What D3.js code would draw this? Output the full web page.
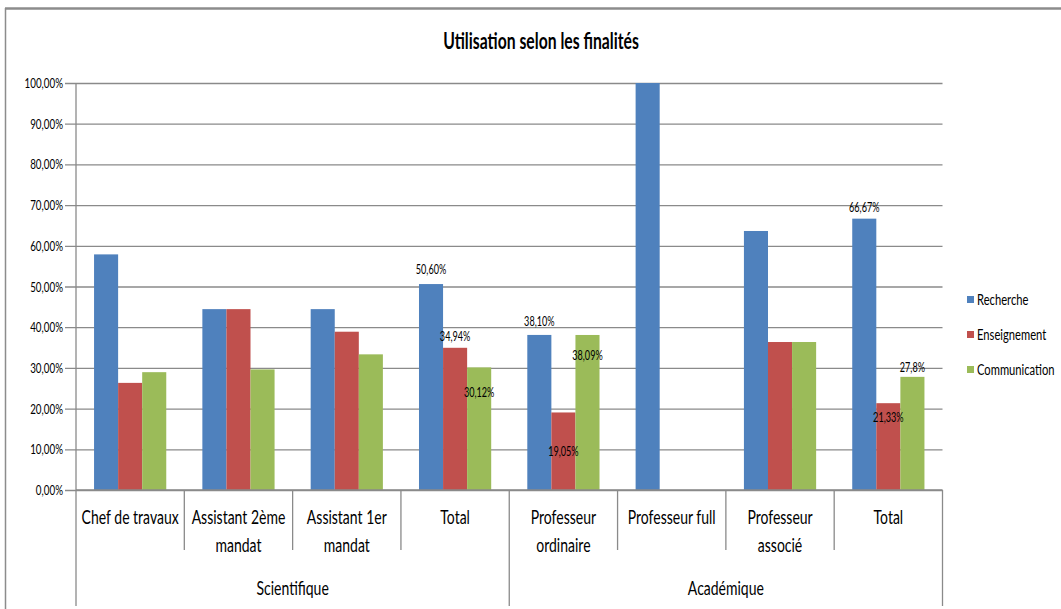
<!DOCTYPE html>
<html><head><meta charset="utf-8">
<script src="https://cdn.jsdelivr.net/npm/d3@7"></script>
<style>
body{margin:0;background:#fff;}
text{font-family:Lato,"Open Sans",sans-serif;fill:#000;}
</style></head>
<body><svg id="c" width="1061" height="609"></svg>
<script>
const categories = ["Chef de travaux","Assistant 2ème mandat","Assistant 1er mandat","Total","Professeur ordinaire","Professeur full","Professeur associé","Total"];
const categoryLines = [["Chef de travaux"],["Assistant 2ème","mandat"],["Assistant 1er","mandat"],["Total"],["Professeur","ordinaire"],["Professeur full"],["Professeur","associé"],["Total"]];
const groups = ["Scientifique","Académique"];
const groupSize = [4,4];
const series = ["Recherche","Enseignement","Communication"];
const recherche     = [57.89, 44.44, 44.44, 50.60, 38.10, 100, 63.64, 66.67];
const enseignement  = [26.32, 44.44, 38.89, 34.94, 19.05, 0, 36.36, 21.33];
const communication = [28.95, 29.63, 33.33, 30.12, 38.09, 0, 36.36, 27.80];
const yTicks = [0,10,20,30,40,50,60,70,80,90,100];
const labelTexts = [
  {cat:3, s:0, text:"50,60%"},{cat:3, s:1, text:"34,94%"},{cat:3, s:2, text:"30,12%"},
  {cat:4, s:0, text:"38,10%"},{cat:4, s:1, text:"19,05%"},{cat:4, s:2, text:"38,09%"},
  {cat:7, s:0, text:"66,67%"},{cat:7, s:1, text:"21,33%"},{cat:7, s:2, text:"27,8%"}
];
// label baseline offsets relative to bar top (layout, not data)
const labelDy = {"3-0":-10,"3-1":-7,"3-2":30,"4-0":-9,"4-1":44,"4-2":25,"7-0":-7,"7-1":19,"7-2":-5};

const colors = ["#4F81BD","#C0504D","#9BBB59"];
const values = [recherche, enseignement, communication];
const svg = d3.select("#c");
const L = 76, R = 942.5, T = 83, B = 490;
const grey = "#8a8a8a";
const SX = 0.7;

function txt(x, yy, str, size, anchor, weight) {
  const g = svg.append("g").attr("transform", `translate(${x},${yy}) scale(${SX},1)`);
  return g.append("text").attr("x",0).attr("y",0).attr("text-anchor",anchor||"start")
    .style("font-size", size+"px").style("font-weight", weight||"normal").text(str);
}

// frame
svg.append("line").attr("x1",5).attr("x2",1061).attr("y1",8.5).attr("y2",8.5).attr("stroke","#8c8c8c").attr("stroke-width",2.5);
svg.append("line").attr("x1",5.5).attr("x2",5.5).attr("y1",8).attr("y2",609).attr("stroke","#8c8c8c").attr("stroke-width",1.5);

txt(541, 49, "Utilisation selon les finalités", 22.5, "middle", "bold");

const idx = d3.range(categories.length);
const x0 = d3.scaleBand().domain(idx).range([L,R]).paddingInner(0).paddingOuter(0);
const x1 = d3.scaleBand().domain(d3.range(series.length)).range([0,x0.bandwidth()]).paddingInner(0).paddingOuter(0.75);
const y = d3.scaleLinear().domain([0,100]).range([B,T]);

// grid
const yAxis = d3.axisLeft(y).tickValues(yTicks).tickSize(-(R-L)).tickFormat("");
const ga = svg.append("g").attr("transform",`translate(${L},0)`).call(yAxis);
ga.select(".domain").remove();
ga.selectAll(".tick line").attr("stroke",grey).attr("stroke-width",1.3).attr("x1",-11);
yTicks.forEach(t => txt(63, y(t)+5, d3.format(".2f")(t).replace(".",",")+"%", 14, "end"));
svg.append("line").attr("x1",L).attr("x2",L).attr("y1",T).attr("y2",B).attr("stroke",grey).attr("stroke-width",1.3);

// bars
idx.forEach(c => {
  series.forEach((s,si) => {
    const v = values[si][c];
    if (v <= 0) return;
    svg.append("rect").attr("x",x0(c)+x1(si)).attr("width",x1.bandwidth())
      .attr("y",y(v)).attr("height",B-y(v)).attr("fill",colors[si]);
  });
});

// data labels
labelTexts.forEach(l => {
  const v = values[l.s][l.cat];
  txt(x0(l.cat)+x1(l.s)+x1.bandwidth()/2, y(v)+labelDy[l.cat+"-"+l.s], l.text, 13, "middle");
});

// x axis line
svg.append("line").attr("x1",L).attr("x2",R).attr("y1",B).attr("y2",B).attr("stroke",grey).attr("stroke-width",1.3);
// category ticks
let gi = 0, bounds = [0];
groupSize.forEach(g => { gi += g; bounds.push(gi); });
d3.range(categories.length+1).forEach(i => {
  const xx = i < categories.length ? x0(i) : R;
  const long = bounds.includes(i);
  svg.append("line").attr("x1",xx).attr("x2",xx).attr("y1",B).attr("y2",long?606:550)
    .attr("stroke",grey).attr("stroke-width",1.3);
});
idx.forEach(c => {
  categoryLines[c].forEach((ln,k) => txt(x0(c)+x0.bandwidth()/2, 524 + k*28, ln, 20, "middle"));
});
groups.forEach((g,k) => {
  const a = x0(bounds[k]), b = bounds[k+1] < categories.length ? x0(bounds[k+1]) : R;
  txt((a+b)/2, 595, g, 20, "middle");
});

// legend
series.forEach((s,i) => {
  const yy = 300 + i*35;
  svg.append("rect").attr("x",967).attr("y",yy-4).attr("width",7).attr("height",7).attr("fill",colors[i]);
  txt(977, yy+5, s, 16, "start");
});
</script></body></html>
